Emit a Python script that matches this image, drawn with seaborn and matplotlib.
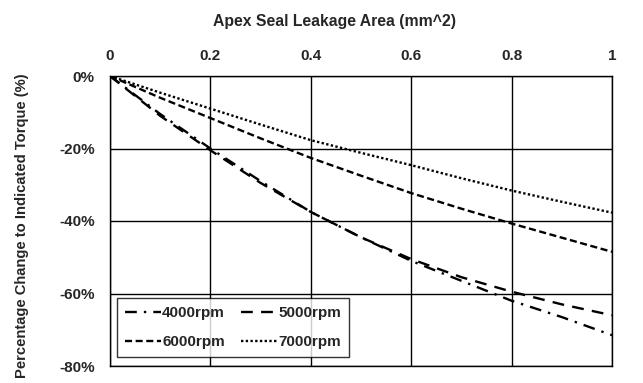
import numpy as np
import pandas as pd
import matplotlib
matplotlib.use("Agg")
import matplotlib.pyplot as plt
import seaborn as sns

leak_area = [0.0, 0.1, 0.2, 0.3, 0.4, 0.5, 0.6, 0.7, 0.8, 0.9, 1.0]
rpm4000 = [0, -10.5, -20, -29, -37.5, -44.5, -51, -56.5, -62, -66.5, -71.5]
rpm5000 = [0, -11, -20.5, -29.5, -37.5, -44.5, -50.5, -55.5, -59.5, -63, -66]
rpm6000 = [0, -6, -11.6, -17.2, -22.6, -27.5, -32.3, -36.6, -40.7, -44.6, -48.5]
rpm7000 = [0, -4.6, -9, -13.4, -17.7, -21.2, -24.6, -28.2, -31.6, -34.7, -37.7]
series_names = ["4000rpm", "5000rpm", "6000rpm", "7000rpm"]
x_ticks = [0, 0.2, 0.4, 0.6, 0.8, 1]
x_tick_labels = ["0", "0.2", "0.4", "0.6", "0.8", "1"]
y_ticks = [0, -20, -40, -60, -80]
y_tick_labels = ["0%", "-20%", "-40%", "-60%", "-80%"]

frames = []
for name, vals in zip(series_names, [rpm4000, rpm5000, rpm6000, rpm7000]):
    frames.append(pd.DataFrame({"area": leak_area, "pct": vals, "rpm": name}))
df = pd.concat(frames, ignore_index=True)

sns.set_theme(style="white")
plt.rcParams["font.family"] = ["Liberation Sans", "DejaVu Sans"]
plt.rcParams["font.weight"] = "bold"

fig = plt.figure(figsize=(6.43, 3.83), dpi=100)
ax = fig.add_axes([110/643, 1-366/383, (612-110)/643, (366-76)/383])

dashes = {
    "4000rpm": (5, 3, 1, 3),
    "5000rpm": (5, 3.5),
    "6000rpm": (3, 1.5),
    "7000rpm": (1, 1),
}
sns.lineplot(data=df, x="area", y="pct", style="rpm", dashes=dashes,
             color="black", linewidth=1.7, ax=ax, legend=True)

ax.set_xlim(0, 1)
ax.set_ylim(-80, 0)
ax.set_xticks(x_ticks)
ax.set_xticklabels(x_tick_labels, fontsize=11, fontweight="bold")
ax.set_yticks(y_ticks)
ax.set_yticklabels(y_tick_labels, fontsize=11, fontweight="bold")
ax.xaxis.tick_top()
ax.xaxis.set_label_position("top")
ax.tick_params(axis="x", length=0, pad=9)
ax.tick_params(axis="y", length=0, pad=11)
ax.set_xlabel("Apex Seal Leakage Area (mm^2)", fontsize=11.3, fontweight="bold", labelpad=17)
ax.xaxis.label.set_x(0.448)
ax.set_ylabel("Percentage Change to Indicated Torque (%)", fontsize=10.6, fontweight="bold", labelpad=22)
ax.yaxis.label.set_y(0.483)
ax.grid(True, color="black", linewidth=1.0)
for s in ax.spines.values():
    s.set_color("black")
    s.set_linewidth(1.0)

handles, labels = ax.get_legend_handles_labels()
hmap = dict(zip(labels, handles))
order = ["4000rpm", "6000rpm", "5000rpm", "7000rpm"]
leg = ax.legend([hmap[k] for k in order], order, loc="lower left", ncol=2, fontsize=11,
                frameon=True, fancybox=False, edgecolor="black",
                handlelength=2.35, handletextpad=0.1, columnspacing=1.05,
                borderpad=0.5, labelspacing=1.0, borderaxespad=0,
                bbox_to_anchor=(0.014, 0.031))
leg.get_frame().set_linewidth(1.0)
for t in leg.get_texts():
    t.set_fontweight("bold")

fig.savefig("out.png", dpi=100)
